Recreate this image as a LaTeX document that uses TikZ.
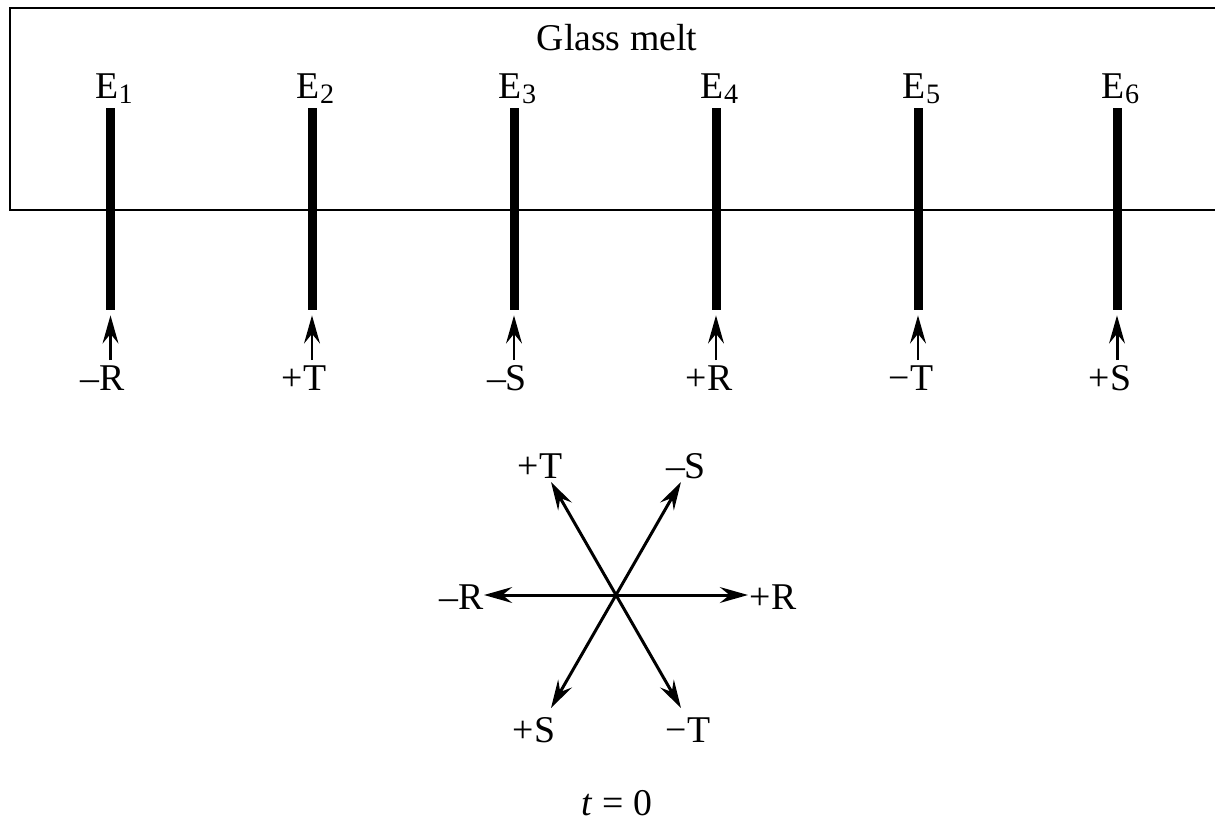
\documentclass[tikz,border=0pt]{standalone}
\usepackage{fontspec}
\setmainfont{Liberation Serif}
\usetikzlibrary{arrows.meta}
\newcommand{\elab}[1]{E\raisebox{-0.3ex}{\fontsize{16}{16}\selectfont #1}}
\begin{document}
\begin{tikzpicture}[x=0.02cm, y=-0.02cm,
  every node/.style={font=\fontsize{21.5}{24}\selectfont, inner sep=0pt},
  electrode/.style={fill=black, minimum width=9*0.02cm, minimum height=202*0.02cm},
  feed/.style={-{Stealth[length=16pt, width=9pt, inset=5.5pt]}, line width=1.7pt},
  ray/.style={-{Stealth[length=16pt, width=9pt, inset=5.5pt]}, line width=1.7pt}]
\useasboundingbox (0,0) rectangle (1215,836);
% melt tank
\draw[line width=1.4pt] (1216,8) -- (10,8) -- (10,210) -- (1216,210);
\node (melt) at (617,38) {Glass melt};
% electrodes
\node[electrode] (e1) at (110.5,209) {};
\node[electrode] (e2) at (312,209) {};
\node[electrode] (e3) at (514,209) {};
\node[electrode] (e4) at (716,209) {};
\node[electrode] (e5) at (918,209) {};
\node[electrode] (e6) at (1117,209) {};
\node[anchor=south] (l1) at (114,104) {\elab{1}};
\node[anchor=south] (l2) at (315.5,104) {\elab{2}};
\node[anchor=south] (l3) at (517.5,104) {\elab{3}};
\node[anchor=south] (l4) at (719.5,104) {\elab{4}};
\node[anchor=south] (l5) at (921.5,104) {\elab{5}};
\node[anchor=south] (l6) at (1120.5,104) {\elab{6}};
% phases fed to the electrodes
\node (p1) at (103,378) {–R};
\node (p2) at (304,378) {+T};
\node (p3) at (507,378) {–S};
\node (p4) at (709,378) {+R};
\node (p5) at (911,378) {−T};
\node (p6) at (1110,378) {+S};
\draw[feed] (e1.south |- 0,360) -- ([yshift=-5*0.02cm]e1.south);
\draw[feed] (e2.south |- 0,360) -- ([yshift=-5*0.02cm]e2.south);
\draw[feed] (e3.south |- 0,360) -- ([yshift=-5*0.02cm]e3.south);
\draw[feed] (e4.south |- 0,360) -- ([yshift=-5*0.02cm]e4.south);
\draw[feed] (e5.south |- 0,360) -- ([yshift=-5*0.02cm]e5.south);
\draw[feed] (e6.south |- 0,360) -- ([yshift=-5*0.02cm]e6.south);
% phasor star
\coordinate (c) at (616,595);
\coordinate (tR) at (748,595);
\coordinate (tmR) at (484,595);
\coordinate (tT) at (551,482);
\coordinate (tmS) at (681,482);
\coordinate (tS) at (551,708);
\coordinate (tmT) at (681,708);
\draw[ray] (c) -- (tR);
\draw[ray] (c) -- (tmR);
\draw[ray] (c) -- (tT);
\draw[ray] (c) -- (tmS);
\draw[ray] (c) -- (tS);
\draw[ray] (c) -- (tmT);
\node (sR) at (773,597) {+R};
\node (smR) at (462,597) {–R};
\node (sT) at (540,466) {+T};
\node (smS) at (686,466) {–S};
\node (sS) at (534,730) {+S};
\node (smT) at (688,730) {−T};
\node (time) at (617,803) {\textit{t} = 0};
\end{tikzpicture}
\end{document}
